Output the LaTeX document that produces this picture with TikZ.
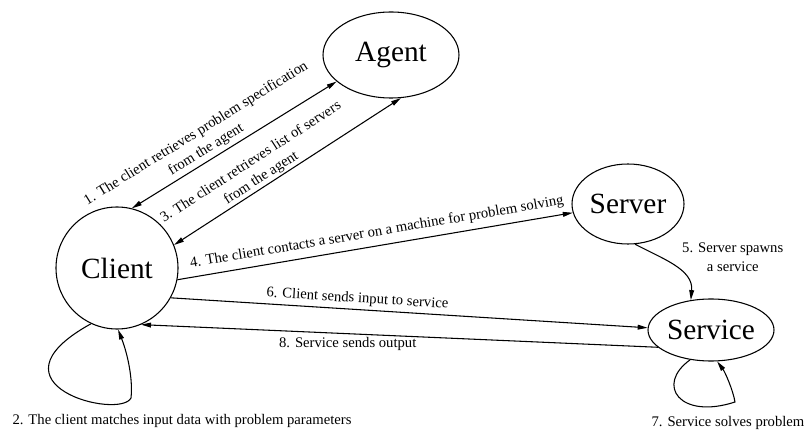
\documentclass[tikz,border=0pt]{standalone}
\usepackage{fontspec}
\setmainfont{Liberation Serif}
\usetikzlibrary{shapes.geometric,arrows.meta}

\tikzset{
  party/.style={draw, ellipse, inner sep=0pt, line width=0.8pt, font=\fontsize{22}{26}\selectfont},
  tip/.tip={Triangle[length=7.5pt,width=3.6pt]},
  link/.style={line width=0.8pt, -tip},
  twoway/.style={line width=0.8pt, tip-tip},
  lbl/.style={font=\fontsize{11}{14.2}\selectfont, inner sep=2.5pt, align=center}
}

\begin{document}
\begin{tikzpicture}[x=0.75pt, y=-0.75pt]
\useasboundingbox (0,0) rectangle (804,431);

% parties
\node[party, circle, minimum size=91.5pt] (client) at (117,268) {Client};
\node[party, minimum width=102pt, minimum height=64.5pt] (agent) at (391,55) {Agent};
\node[party, minimum width=84pt, minimum height=60pt] (server) at (628,204) {Server};
\node[party, minimum width=94.5pt, minimum height=46.5pt] (service) at (711,330) {Service};

% client <-> agent
\draw[twoway] (client.76) -- node[lbl, sloped, above, pos=0.39]
  {1. The client retrieves problem specification\\from the agent} (agent.206);
\draw[twoway] (client.22) -- node[lbl, sloped, above=-1.5pt, pos=0.405]
  {3. The client retrieves list of servers\\from the agent} (agent.283);

% client -> server -> service
\draw[link] (client.349) -- node[lbl, sloped, above=2pt, pos=0.51]
  {4. The client contacts a server on a machine for problem solving} (server.189);
\draw[link] (server.280) to[out=-28, in=85]
  node[lbl, pos=0.3, right=14pt] {5. Server spawns\\a service} (service.124);

% client <-> service
\draw[link] (client.331) -- node[lbl, sloped, above, pos=0.39]
  {6. Client sends input to service} (service.178);
\draw[link] (service.198) -- node[lbl, below, pos=0.6]
  {8. Service sends output} (client.293);

% self loops
\draw[link] (client.245) .. controls (-20,385) and (120,420) .. (131,398)
  .. controls (133,380) and (128,355) .. (client.271);
\node[lbl] (matchlbl) at (182,421) {2. The client matches input data with problem parameters};

\draw[link] (service.235) .. controls (655,385) and (680,420) .. (735,402)
  .. controls (733,390) and (725,372) .. (service.281);
\node[lbl] (solvelbl) at (728,423) {7. Service solves problem};

\end{tikzpicture}
\end{document}
